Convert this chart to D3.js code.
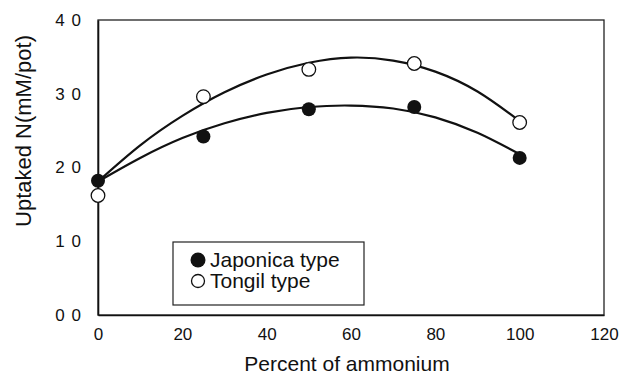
<!DOCTYPE html>
<html>
<head>
<meta charset="utf-8">
<script src="https://cdn.jsdelivr.net/npm/d3@7"></script>
<style>
  body { margin: 0; background: #fff; }
  svg text { font-family: "Liberation Sans", Arial, sans-serif; fill: #111; }
</style>
</head>
<body>
<script>
// measured points (percent of ammonium vs uptaked N)
const ammonium = [0, 25, 50, 75, 100];
const japonica = [1.82, 2.42, 2.79, 2.82, 2.13];
const tongil = [1.62, 2.96, 3.33, 3.41, 2.61];

// trend curves
const curveX = [0, 10, 20, 30, 40, 50, 60, 70, 80, 90, 100];
const japonicaCurve = [1.81, 2.13, 2.40, 2.60, 2.74, 2.82, 2.84, 2.80, 2.68, 2.47, 2.18];
const tongilCurve = [1.81, 2.30, 2.70, 3.02, 3.26, 3.42, 3.49, 3.45, 3.30, 3.03, 2.63];

const xTicks = [0, 20, 40, 60, 80, 100, 120];
const yTicks = [0, 1, 2, 3, 4];
const yTickLabels = ["0 0", "1 0", "2 0", "3 0", "4 0"];

const width = 620, height = 376;
const margin = {top: 20, right: 16, bottom: 61, left: 98};

const svg = d3.select("body").append("svg")
  .attr("width", width)
  .attr("height", height);

const x = d3.scaleLinear()
  .domain([0, 120])
  .range([margin.left, width - margin.right]);

const y = d3.scaleLinear()
  .domain([0, 4])
  .range([height - margin.bottom, margin.top]);

// frame
svg.append("rect")
  .attr("x", x(0))
  .attr("y", y(4))
  .attr("width", x(120) - x(0))
  .attr("height", y(0) - y(4))
  .attr("fill", "none")
  .attr("stroke", "#222")
  .attr("stroke-width", 1.3);

const xAxis = d3.axisBottom(x).tickValues(xTicks).tickSize(0).tickPadding(13);
svg.append("g")
  .attr("transform", `translate(0, ${y(0)})`)
  .call(xAxis)
  .call(g => g.select(".domain").attr("stroke", "#111").attr("stroke-width", 1.6))
  .selectAll("text")
  .style("font-size", "17px");

const yAxis = d3.axisLeft(y).tickValues(yTicks).tickSize(0).tickPadding(17)
  .tickFormat((d, i) => yTickLabels[i]);
svg.append("g")
  .attr("transform", `translate(${x(0)}, 0)`)
  .call(yAxis)
  .call(g => g.select(".domain").attr("stroke", "#111").attr("stroke-width", 1.6))
  .selectAll("text")
  .style("font-size", "17px")
  .style("word-spacing", "2px");

svg.selectAll(".tick text").attr("fill", "#111");

// titles
svg.append("text")
  .attr("x", 347)
  .attr("y", 371)
  .attr("text-anchor", "middle")
  .style("font-size", "21px")
  .text("Percent of ammonium");

svg.append("text")
  .attr("transform", `translate(31, 131) rotate(-90)`)
  .attr("text-anchor", "middle")
  .style("font-size", "22px")
  .text("Uptaked N(mM/pot)");

// curves
const line = d3.line()
  .x((d, i) => x(curveX[i]))
  .y(d => y(d))
  .curve(d3.curveNatural);

[japonicaCurve, tongilCurve].forEach(c => {
  svg.append("path")
    .attr("d", line(c))
    .attr("fill", "none")
    .attr("stroke", "#111")
    .attr("stroke-width", 2.2);
});

// points
svg.append("g").selectAll("circle")
  .data(tongil)
  .enter().append("circle")
  .attr("cx", (d, i) => x(ammonium[i]))
  .attr("cy", d => y(d))
  .attr("r", 6.8)
  .attr("fill", "#fff")
  .attr("stroke", "#111")
  .attr("stroke-width", 1.3);

svg.append("g").selectAll("circle")
  .data(japonica)
  .enter().append("circle")
  .attr("cx", (d, i) => x(ammonium[i]))
  .attr("cy", d => y(d))
  .attr("r", 7)
  .attr("fill", "#111");

// legend
const legend = svg.append("g");
legend.append("rect")
  .attr("x", 173)
  .attr("y", 242)
  .attr("width", 191)
  .attr("height", 63)
  .attr("fill", "#fff")
  .attr("stroke", "#222")
  .attr("stroke-width", 1.2);

const legendItems = [
  {label: "Japonica type", filled: true},
  {label: "Tongil type", filled: false}
];
legendItems.forEach((item, i) => {
  const cy = 260 + i * 21;
  legend.append("circle")
    .attr("cx", 198)
    .attr("cy", cy)
    .attr("r", item.filled ? 7.5 : 6.5)
    .attr("fill", item.filled ? "#111" : "#fff")
    .attr("stroke", "#111")
    .attr("stroke-width", item.filled ? 0 : 1.3);
  legend.append("text")
    .attr("x", 210)
    .attr("y", cy)
    .attr("dy", "0.35em")
    .style("font-size", "21px")
    .text(item.label);
});
</script>
</body>
</html>
